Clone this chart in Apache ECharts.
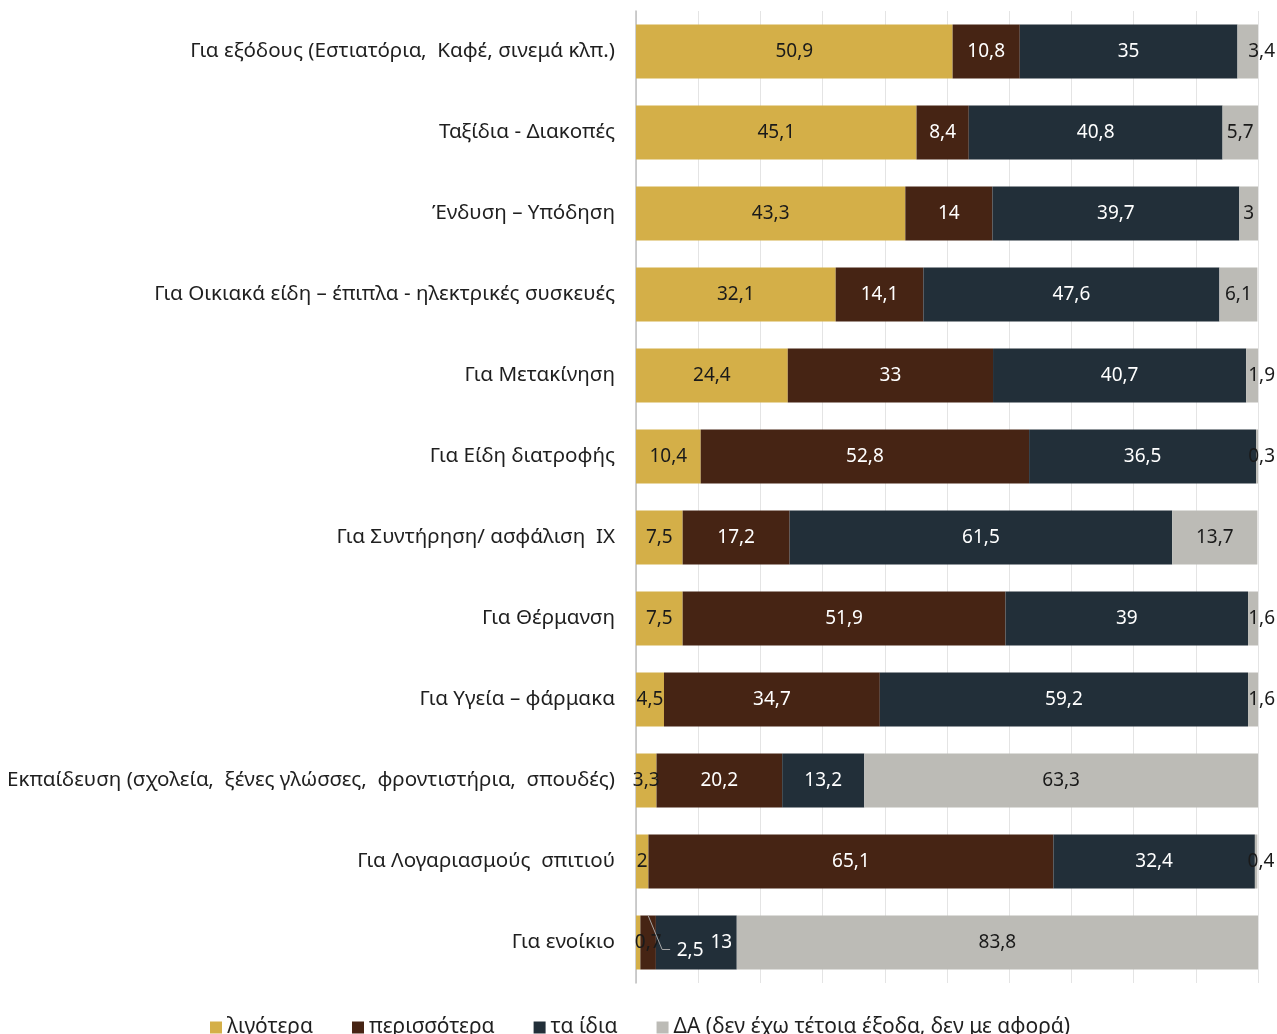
<!DOCTYPE html>
<html>
<head>
<meta charset="utf-8">
<script src="https://cdn.jsdelivr.net/npm/echarts@6/dist/echarts.min.js"></script>
<style>html,body{margin:0;padding:0;background:#fff}#c{width:1277px;height:1034px}</style>
</head>
<body>
<div id="c"></div>
<script>
const categories = [
  "Για εξόδους (Εστιατόρια,  Καφέ, σινεμά κλπ.)",
  "Ταξίδια - Διακοπές",
  "Ένδυση – Υπόδηση",
  "Για Οικιακά είδη – έπιπλα - ηλεκτρικές συσκευές",
  "Για Μετακίνηση",
  "Για Είδη διατροφής",
  "Για Συντήρηση/ ασφάλιση  ΙΧ",
  "Για Θέρμανση",
  "Για Υγεία – φάρμακα",
  "Εκπαίδευση (σχολεία,  ξένες γλώσσες,  φροντιστήρια,  σπουδές)",
  "Για Λογαριασμούς  σπιτιού",
  "Για ενοίκιο"
];
const seriesNames = ["λιγότερα", "περισσότερα", "τα ίδια", "ΔΑ (δεν έχω τέτοια έξοδα, δεν με αφορά)"];
const less =  [50.9, 45.1, 43.3, 32.1, 24.4, 10.4, 7.5, 7.5, 4.5, 3.3, 2, 0.7];
const more =  [10.8, 8.4, 14, 14.1, 33, 52.8, 17.2, 51.9, 34.7, 20.2, 65.1, 2.5];
const same =  [35, 40.8, 39.7, 47.6, 40.7, 36.5, 61.5, 39, 59.2, 13.2, 32.4, 13];
const na =    [3.4, 5.7, 3, 6.1, 1.9, 0.3, 13.7, 1.6, 1.6, 63.3, 0.4, 83.8];

const colors = ["#D4AF48", "#462414", "#222F39", "#BCBBB6"];
const labelColors = ["#1a1a1a", "#ffffff", "#ffffff", "#1a1a1a"];
const FONT = "'Noto Sans', sans-serif";
const fmt = v => String(v).replace('.', ',');
const plotW = 622;

function makeData(arr, si) {
  return arr.map((v, i) => {
    const item = { value: v };
    const s = fmt(v);
    const tw = s.length * 9.5;
    if (si === 3 && tw > v / 100 * plotW) {
      item.label = { position: 'insideRight', distance: -17 };
    }
    if (i === 11) {
      if (si === 0) item.label = { offset: [10, 0] };
      if (si === 1) item.label = { offset: [42, 8] };
      if (si === 2) item.label = { offset: [25, 0] };
    }
    return item;
  });
}

const lists = [less, more, same, na];
const series = lists.map((arr, si) => ({
  name: seriesNames[si],
  type: 'bar',
  stack: 'total',
  barWidth: 54,
  data: makeData(arr, si),
  itemStyle: { color: colors[si] },
  label: {
    show: true,
    position: 'inside',
    color: labelColors[si],
    fontFamily: FONT,
    fontSize: 19,
    formatter: p => fmt(p.value)
  },
  emphasis: { disabled: true },
  z: 3
}));

const chart = echarts.init(document.getElementById('c'), null, { renderer: 'canvas' });
chart.setOption({
  animation: false,
  color: colors,
  grid: { left: 636, right: 19, top: 11, bottom: 51, containLabel: false, outerBoundsMode: 'none' },
  xAxis: {
    type: 'value', min: 0, max: 100, interval: 10,
    axisLabel: { show: false },
    axisLine: { show: false },
    axisTick: { show: false },
    splitLine: { show: true, lineStyle: { color: '#E4E4E4', width: 1 } }
  },
  yAxis: {
    type: 'category', data: categories, inverse: true,
    axisLine: { show: true, lineStyle: { color: '#BFBFBF', width: 1.5 } },
    axisTick: { show: false },
    axisLabel: { color: '#1f1f1f', fontFamily: FONT, fontSize: 20.6, margin: 21 }
  },
  legend: {
    data: seriesNames,
    left: 205, top: 1012,
    itemWidth: 12, itemHeight: 12, itemGap: 39,
    icon: 'rect',
    textStyle: { color: '#1f1f1f', fontFamily: FONT, fontSize: 21, padding: [0, 0, 0, 0] }
  },
  series: series
});

// guide line for the small "2,5" label, positioned from the axis scales
const p0 = chart.convertToPixel({ xAxisIndex: 0, yAxisIndex: 0 }, [less[11] + more[11] / 2, categories[11]]);
chart.setOption({
  graphic: [{
    type: 'polyline',
    silent: true,
    shape: { points: [[p0[0], p0[1] - 27], [p0[0] + 14, p0[1] + 7], [p0[0] + 22, p0[1] + 7]] },
    style: { stroke: '#A6A6A6', lineWidth: 1, fill: null },
    z: 10
  }]
});
</script>
</body>
</html>
